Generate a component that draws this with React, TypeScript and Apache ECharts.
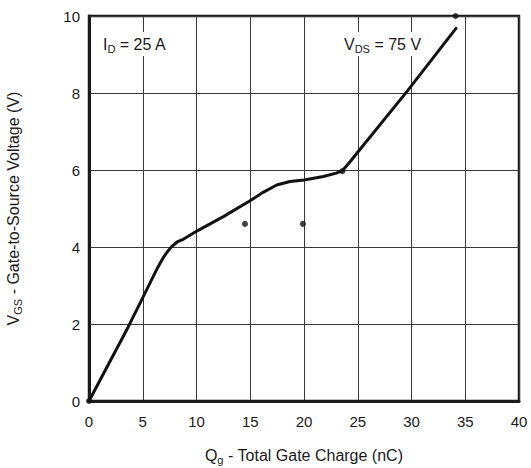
import React, { useEffect, useRef } from "react";
import * as echarts from "echarts";

const curveQg = [0, 3.66, 5.05, 6.36, 6.9, 7.3, 7.69, 8.2, 8.77, 10.07, 12.5, 14.98, 16.2, 17.46, 18.7, 20.0, 21.8, 23.0, 23.57, 24.3, 24.9, 29.55, 34.14];
const curveVgs = [0, 1.93, 2.71, 3.45, 3.72, 3.88, 4.01, 4.13, 4.2, 4.42, 4.79, 5.2, 5.42, 5.61, 5.7, 5.74, 5.83, 5.92, 5.98, 6.22, 6.43, 8.03, 9.68];
const dotQg = [0, 14.51, 19.9, 23.57, 34.1];
const dotVgs = [0, 4.6, 4.6, 5.97, 10.0];
const xTicks = [0, 5, 10, 15, 20, 25, 30, 35, 40];
const yTicks = [0, 2, 4, 6, 8, 10];

const FONT = "Liberation Sans, Arial, sans-serif";
const INK = "#1a1a1a";

const richMain = { fontSize: 16, color: INK, fontFamily: FONT };
const richSub = { fontSize: 11, color: INK, fontFamily: FONT, padding: [9, 0, 0, 0] };

export default function App() {
  const ref = useRef<HTMLDivElement>(null);
  useEffect(() => {
    const chart = echarts.init(ref.current!, null, { renderer: "svg" });
    chart.setOption({
      animation: false,
      backgroundColor: "#fff",
      textStyle: { fontFamily: FONT },
      grid: {
        left: 89,
        top: 16,
        right: 12,
        bottom: 67,
        show: true,
        borderColor: INK,
        borderWidth: 2.5,
        containLabel: false,
        outerBoundsMode: "none",
      },
      xAxis: {
        type: "value",
        min: xTicks[0],
        max: xTicks[xTicks.length - 1],
        interval: 5,
        axisLine: { show: true, onZero: false, lineStyle: { color: INK, width: 3 } },
        axisTick: { show: false },
        splitLine: { show: true, lineStyle: { color: "#3a3a3a", width: 1 } },
        axisLabel: { color: INK, fontSize: 15, margin: 13, fontFamily: FONT },
        name: "{m|Q}{s|g}{m| - Total Gate Charge (nC)}",
        nameLocation: "middle",
        nameGap: 44,
        nameTextStyle: { rich: { m: richMain, s: richSub } },
      },
      yAxis: {
        type: "value",
        min: yTicks[0],
        max: yTicks[yTicks.length - 1],
        interval: 2,
        axisLine: { show: true, onZero: false, lineStyle: { color: INK, width: 3 } },
        axisTick: { show: false },
        splitLine: { show: true, lineStyle: { color: "#3a3a3a", width: 1 } },
        axisLabel: { color: INK, fontSize: 15, margin: 9, fontFamily: FONT },
        name: "{m|V}{s|GS}{m| - Gate-to-Source Voltage (V)}",
        nameLocation: "middle",
        nameGap: 66,
        nameTextStyle: { rich: { m: richMain, s: richSub } },
      },
      graphic: [
        {
          type: "text",
          left: 101,
          top: 32,
          z: 10,
          style: {
            text: "{m|I}{s|D}{m| = 25 A}",
            backgroundColor: "#fff",
            padding: [2, 2, 2, 2],
            rich: {
              m: { fontSize: 16, fill: INK, fontFamily: FONT },
              s: { fontSize: 11, fill: INK, fontFamily: FONT, padding: [9, 0, 0, 0] },
            },
          },
        },
        {
          type: "text",
          left: 342,
          top: 32,
          z: 10,
          style: {
            text: "{m|V}{s|DS}{m| = 75 V}",
            backgroundColor: "#fff",
            padding: [2, 2, 2, 2],
            rich: {
              m: { fontSize: 16, fill: INK, fontFamily: FONT },
              s: { fontSize: 11, fill: INK, fontFamily: FONT, padding: [9, 0, 0, 0] },
            },
          },
        },
      ],
      series: [
        {
          type: "line",
          data: curveQg.map((q, i) => [q, curveVgs[i]]),
          showSymbol: false,
          smooth: false,
          lineStyle: { color: "#111", width: 3, join: "round", cap: "round" },
          z: 3,
        },
        {
          type: "scatter",
          data: dotQg.map((q, i) => [q, dotVgs[i]]),
          symbolSize: 6,
          itemStyle: { color: "#111" },
          z: 4,
        },
      ],
    });
    return () => chart.dispose();
  }, []);
  return <div ref={ref} style={{ position: "fixed", left: 0, top: 0, width: 531, height: 468 }} />;
}
